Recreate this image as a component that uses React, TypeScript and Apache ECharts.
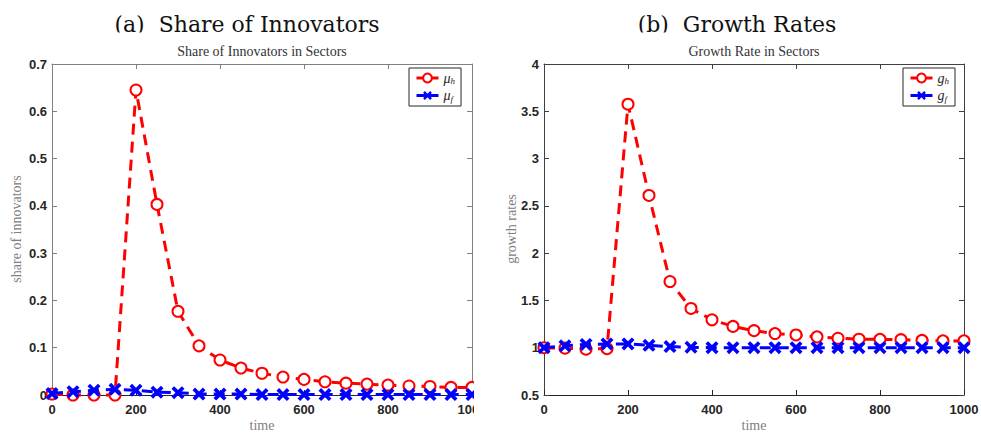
import React, { useEffect, useRef } from "react";
import * as echarts from "echarts";

const timeSteps = [0, 50, 100, 150, 200, 250, 300, 350, 400, 450, 500, 550, 600, 650, 700, 750, 800, 850, 900, 950, 1000];
const muH = [0.002, 0, 0, 0, 0.645, 0.403, 0.177, 0.104, 0.074, 0.057, 0.046, 0.038, 0.033, 0.028, 0.025, 0.023, 0.021, 0.019, 0.018, 0.016, 0.016];
const muF = [0.003, 0.007, 0.01, 0.012, 0.01, 0.006, 0.005, 0.002, 0.002, 0.002, 0.001, 0.001, 0.001, 0.001, 0.001, 0.001, 0.001, 0.001, 0.001, 0.001, 0.001];
const gH = [1.0, 0.995, 0.985, 0.99, 3.575, 2.61, 1.7, 1.415, 1.295, 1.225, 1.18, 1.15, 1.135, 1.115, 1.1, 1.09, 1.088, 1.085, 1.077, 1.072, 1.072];
const gF = [1.0, 1.02, 1.035, 1.04, 1.04, 1.025, 1.012, 1.005, 1.0, 1.0, 1.0, 1.0, 1.0, 1.0, 1.0, 1.0, 1.0, 1.0, 1.0, 1.0, 1.0];

const xTicks = { min: 0, max: 1000, interval: 200 };
const leftY = { min: 0, max: 0.7, interval: 0.1 };
const rightY = { min: 0.5, max: 4, interval: 0.5 };

const X_SYMBOL = "path://M0,2 L2,0 L5,3 L8,0 L10,2 L7,5 L10,8 L8,10 L5,7 L2,10 L0,8 L3,5 Z";
const SERIF = "'Liberation Serif', 'DejaVu Serif', serif";
const TITLE_SERIF = "'DejaVu Serif', 'Liberation Serif', serif";
const SANS = "'Liberation Sans', Arial, sans-serif";

type Cfg = {
  gridLeft: number;
  containerWidth: number;
  title: string;
  titleX: number;
  subtitle: string;
  yName: string;
  yNameX: number;
  yRange: { min: number; max: number; interval: number };
  hName: string;
  fName: string;
  hData: number[];
  fData: number[];
  sym: string;
  axisColor: string;
  legendLeft: number;
};

function pairs(ys: number[]) {
  return timeSteps.map((t, i) => [t, ys[i]]);
}

function makeOption(c: Cfg): any {
  const gridW = 420;
  const center = c.gridLeft + gridW / 2;
  const lineColor = c.axisColor;
  const baseX = {
    type: "value",
    min: xTicks.min,
    max: xTicks.max,
    interval: xTicks.interval,
    splitLine: { show: false },
  };
  const baseY = {
    type: "value",
    min: c.yRange.min,
    max: c.yRange.max,
    interval: c.yRange.interval,
    splitLine: { show: false },
  };
  const labelStyle = { color: "#262626", fontFamily: SANS, fontWeight: "bold", fontSize: 13 };
  return {
    animation: false,
    backgroundColor: "#ffffff",
    grid: { left: c.gridLeft, top: 64, width: gridW, height: 331, containLabel: false, outerBoundsMode: "none" },
    xAxis: [
      {
        ...baseX,
        position: "bottom",
        axisLine: { show: true, onZero: false, lineStyle: { color: "#262626", width: 1 } },
        axisTick: { show: true, inside: true, length: 5, lineStyle: { color: "#262626" } },
        axisLabel: { ...labelStyle, margin: 8, hideOverlap: false, formatter: (v: number) => String(v) },
      },
      {
        ...baseX,
        position: "top",
        axisLine: { show: true, onZero: false, lineStyle: { color: lineColor, width: 1 } },
        axisTick: { show: true, inside: true, length: 5, lineStyle: { color: lineColor } },
        axisLabel: { show: false },
      },
    ],
    yAxis: [
      {
        ...baseY,
        position: "left",
        axisLine: { show: true, onZero: false, lineStyle: { color: lineColor, width: 1 } },
        axisTick: { show: true, inside: true, length: 5, lineStyle: { color: lineColor } },
        axisLabel: { ...labelStyle, margin: 5, formatter: (v: number) => String(+v.toFixed(2)) },
      },
      {
        ...baseY,
        position: "right",
        axisLine: { show: true, onZero: false, lineStyle: { color: lineColor, width: 1 } },
        axisTick: { show: true, inside: true, length: 5, lineStyle: { color: lineColor } },
        axisLabel: { show: false },
      },
    ],
    legend: {
      orient: "vertical",
      left: c.legendLeft,
      top: 68,
      padding: [3, 6, 3, 6],
      itemGap: 3,
      itemWidth: 22,
      itemHeight: 11,
      borderColor: "#262626",
      borderWidth: 1,
      backgroundColor: "#ffffff",
      selectedMode: false,
      lineStyle: { type: "solid", width: 3 },
      data: [c.hName, c.fName],
      formatter: (name: string) => {
        const sub = name === c.hName ? "h" : "f";
        return "{m|" + c.sym + "}{s|" + sub + "}";
      },
      textStyle: {
        color: "#262626",
        rich: {
          m: { fontFamily: SERIF, fontStyle: "italic", fontSize: 14, color: "#262626", lineHeight: 15, verticalAlign: "middle" },
          s: { fontFamily: SERIF, fontStyle: "italic", fontSize: 9, color: "#262626", lineHeight: 15, verticalAlign: "bottom" },
        },
      },
    },
    series: [
      {
        name: c.hName,
        type: "line",
        data: pairs(c.hData),
        symbol: "emptyCircle",
        symbolSize: 11,
        color: "#ff0000",
        lineStyle: { color: "#ff0000", width: 3, type: [11, 7] },
        itemStyle: { color: "#ff0000", borderColor: "#ff0000", borderWidth: 3 },
        clip: false,
        z: 2,
      },
      {
        name: c.fName,
        type: "line",
        data: pairs(c.fData),
        symbol: X_SYMBOL,
        symbolSize: 13,
        color: "#0000ff",
        lineStyle: { color: "#0000ff", width: 3, type: [11, 7] },
        itemStyle: { color: "#0000ff", borderColor: "#0000ff", borderWidth: 0 },
        clip: false,
        z: 3,
      },
    ],
    graphic: [
      {
        type: "text",
        x: c.titleX,
        y: 24.5,
        z: 10,
        style: {
          text: c.title,
          fontFamily: TITLE_SERIF,
          fontSize: 22,
          fill: "#111111",
          align: "center",
          verticalAlign: "middle",
        },
      },
      {
        type: "rect",
        z: 11,
        shape: { x: 0, y: 32.5, width: c.containerWidth, height: 8 },
        style: { fill: "#ffffff" },
      },
      {
        type: "text",
        x: center,
        y: 51,
        z: 12,
        style: {
          text: c.subtitle,
          fontFamily: SERIF,
          fontSize: 14,
          fill: "#333333",
          align: "center",
          verticalAlign: "middle",
        },
      },
      {
        type: "text",
        x: c.yNameX,
        y: 229,
        rotation: Math.PI / 2,
        style: {
          text: c.yName,
          fontFamily: SERIF,
          fontSize: 14,
          fill: "#808080",
          align: "center",
          verticalAlign: "middle",
        },
      },
      {
        type: "text",
        x: center,
        y: 425,
        style: {
          text: "time",
          fontFamily: SERIF,
          fontSize: 14,
          fill: "#808080",
          align: "center",
          verticalAlign: "middle",
        },
      },
    ],
  };
}

function ChartBox(props: { cfg: Cfg; left: number }) {
  const ref = useRef<HTMLDivElement>(null);
  useEffect(() => {
    if (!ref.current) return;
    const chart = echarts.init(ref.current, null, { renderer: "svg" });
    chart.setOption(makeOption(props.cfg));
    return () => chart.dispose();
  }, []);
  return (
    <div
      ref={ref}
      style={{ position: "absolute", left: props.left, top: 0, width: props.cfg.containerWidth, height: 435, overflow: "hidden" }}
    />
  );
}

const leftCfg: Cfg = {
  gridLeft: 52,
  containerWidth: 474,
  title: "(a)  Share of Innovators",
  titleX: 247,
  subtitle: "Share of Innovators in Sectors",
  yName: "share of innovators",
  yNameX: 16,
  yRange: leftY,
  hName: "mu_h",
  fName: "mu_f",
  hData: muH,
  fData: muF,
  sym: "μ",
  axisColor: "#808080",
  legendLeft: 409,
};

const rightCfg: Cfg = {
  gridLeft: 70,
  containerWidth: 507,
  title: "(b)  Growth Rates",
  titleX: 263,
  subtitle: "Growth Rate in Sectors",
  yName: "growth rates",
  yNameX: 37,
  yRange: rightY,
  hName: "g_h",
  fName: "g_f",
  hData: gH,
  fData: gF,
  sym: "g",
  axisColor: "#404040",
  legendLeft: 429,
};

export default function App() {
  return (
    <div style={{ position: "fixed", left: 0, top: 0, width: 981, height: 435, background: "#fff", overflow: "hidden" }}>
      <ChartBox cfg={leftCfg} left={0} />
      <ChartBox cfg={rightCfg} left={474} />
    </div>
  );
}
